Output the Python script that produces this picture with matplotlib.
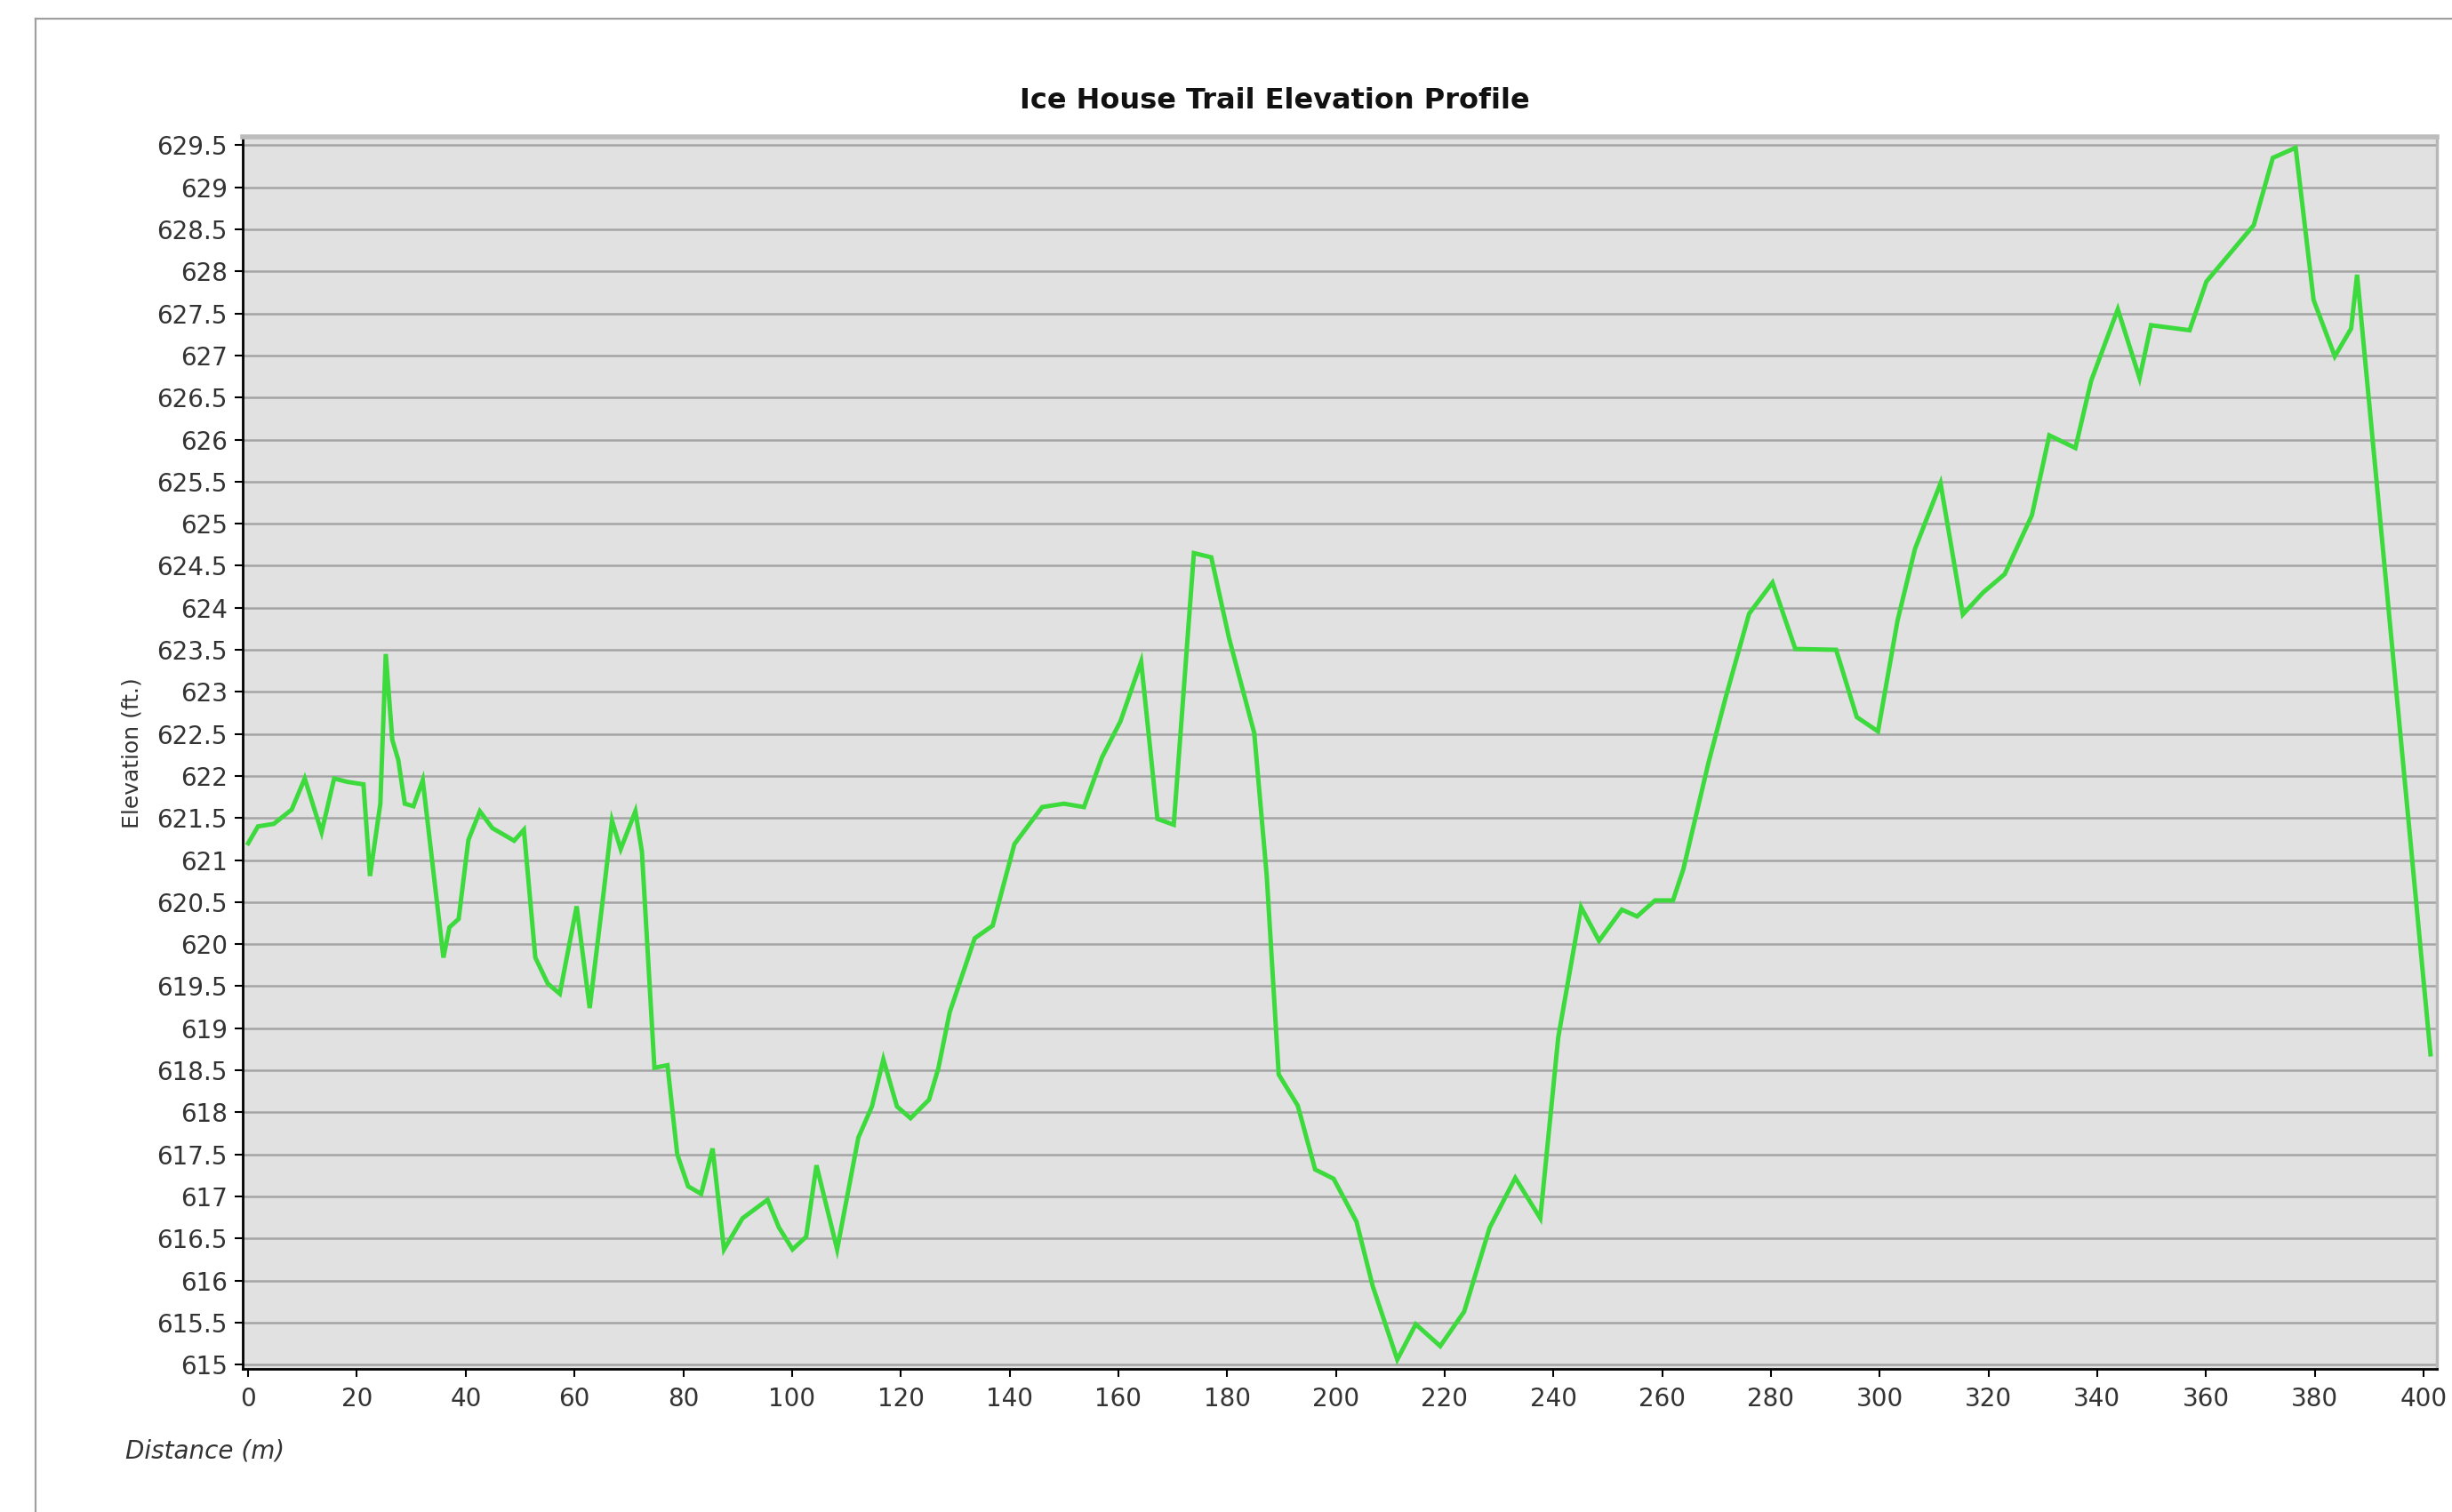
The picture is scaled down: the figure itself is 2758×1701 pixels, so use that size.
import matplotlib
matplotlib.use("Agg")
import matplotlib.pyplot as plt
from matplotlib.lines import Line2D
from matplotlib.ticker import MultipleLocator, FormatStrFormatter

# distance along the trail (m) and elevation (ft.)
distance = [0, 1.8, 4.7, 8, 10.4, 13.5, 15.8, 18.2, 21.2, 22.4, 24.3, 25.3, 26.5,
            27.6, 28.8, 30.4, 32.1, 33.9, 35.9, 37, 38.7, 40.5, 42.6, 44.9, 48.9,
            50.7, 52.8, 55.1, 57.3, 60.4, 62.8, 65.3, 66.9, 68.5, 71.2, 72.4, 74.7,
            77.1, 78.9, 80.9, 83.3, 85.4, 87.5, 90.9, 95.5, 97.6, 100.1, 102.6,
            104.5, 108.3, 112.2, 114.7, 116.8, 119.3, 121.8, 125.2, 126.9, 129,
            133.6, 136.9, 140.9, 146, 150, 153.7, 157, 160.4, 164.2, 167.2, 170.2,
            173.9, 177.1, 180.4, 185, 187.3, 189.5, 193, 196.2, 199.6, 203.8, 206.8,
            211.3, 214.7, 219.2, 223.6, 228.3, 233, 237.6, 240.9, 245.1, 248.4,
            252.6, 255.4, 258.7, 262, 263.9, 268.5, 271.8, 276, 280.3, 284.5, 292,
            295.8, 299.7, 303.3, 306.5, 311.2, 315.3, 319, 323, 328, 331.2, 336,
            338.9, 343.8, 347.8, 349.9, 357, 360.1, 368.8, 372.3, 376.5, 379.8,
            383.7, 386.7, 387.8, 401.3]
elevation = [621.2, 621.4, 621.43, 621.6, 621.97, 621.33, 621.97, 621.93, 621.9,
             620.81, 621.67, 623.45, 622.43, 622.19, 621.67, 621.64, 621.95, 620.95,
             619.84, 620.2, 620.3, 621.24, 621.58, 621.38, 621.23, 621.36, 619.84,
             619.53, 619.41, 620.45, 619.24, 620.58, 621.47, 621.13, 621.58, 621.1,
             618.53, 618.56, 617.5, 617.12, 617.03, 617.57, 616.37, 616.74, 616.96,
             616.63, 616.37, 616.52, 617.37, 616.37, 617.7, 618.07, 618.63, 618.07,
             617.93, 618.15, 618.52, 619.19, 620.07, 620.22, 621.19, 621.63, 621.67,
             621.63, 622.22, 622.65, 623.36, 621.49, 621.42, 624.65, 624.6, 623.63,
             622.51, 620.81, 618.45, 618.08, 617.32, 617.21, 616.7, 615.93, 615.06,
             615.48, 615.22, 615.63, 616.63, 617.22, 616.74, 618.89, 620.44, 620.04,
             620.41, 620.33, 620.52, 620.52, 620.89, 622.15, 622.96, 623.93, 624.3,
             623.51, 623.5, 622.7, 622.53, 623.85, 624.7, 625.48, 623.92, 624.18,
             624.4, 625.1, 626.05, 625.9, 626.7, 627.55, 626.73, 627.36, 627.3,
             627.88, 628.55, 629.35, 629.47, 627.66, 626.99, 627.32, 627.96, 618.69]

title = "Ice House Trail Elevation Profile"

fig = plt.figure(figsize=(27.58, 17.01), dpi=100)
ax = fig.add_axes([0.099, 0.0947, 0.8949, 0.8148])
ax.set_facecolor("#e1e1e1")

ax.plot(distance, elevation, color="#3dda3d", lw=3.6, solid_joinstyle="miter", zorder=3)

ax.set_xlim(-1.0, 402.5)
ax.set_ylim(614.95, 629.6)
ax.xaxis.set_major_locator(MultipleLocator(20))
ax.yaxis.set_major_locator(MultipleLocator(0.5))
ax.yaxis.set_major_formatter(FormatStrFormatter("%g"))
ax.yaxis.grid(True, color="#a4a4a4", lw=1.8)
ax.set_axisbelow(True)

ax.tick_params(direction="out", length=6.5, width=1.5, color="black",
               labelsize=20, labelcolor="#333333", pad=6)
ax.tick_params(axis="x", pad=8)

for side in ["left", "bottom"]:
    ax.spines[side].set_color("black")
    ax.spines[side].set_linewidth(2)
ax.spines["top"].set_color("#bcbcbc")
ax.spines["top"].set_linewidth(4)
ax.spines["right"].set_color("#b8b8b8")
ax.spines["right"].set_linewidth(2.5)

fig.text(0.52, 0.933, title, ha="center", va="center", fontsize=23,
         fontweight="bold", color="#111111")
fig.text(0.054, 0.502, "Elevation (ft.)", rotation=90, ha="center", va="center",
         fontsize=18, color="#333333")
fig.text(0.051, 0.0405, "Distance (m)", ha="left", va="center", fontsize=20,
         style="italic", color="#333333")

# panel frame of the original window (top and left edges)
fig.add_artist(Line2D([0.0145, 1.0], [0.9877, 0.9877], color="#a0a0a0", lw=1.6))
fig.add_artist(Line2D([0.0145, 0.0145], [0.0, 0.9877], color="#a0a0a0", lw=1.6))

fig.savefig("out.png", dpi=100, facecolor="white")
